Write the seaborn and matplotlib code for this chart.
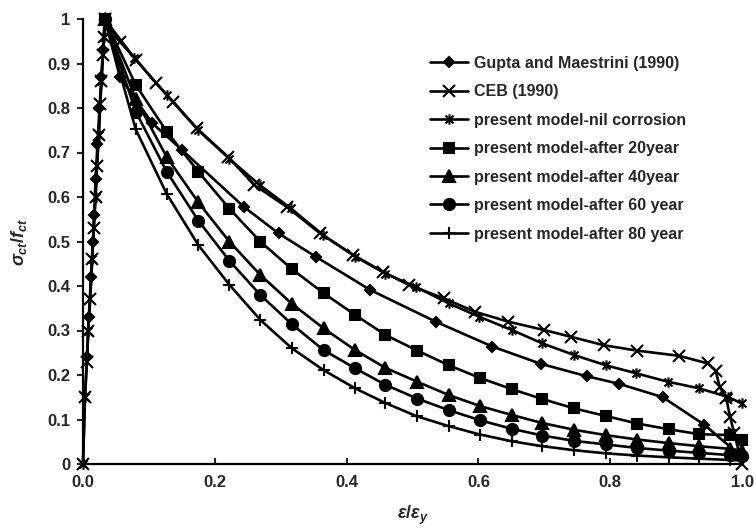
import matplotlib
matplotlib.use("Agg")
import matplotlib.pyplot as plt
from matplotlib.path import Path
import seaborn as sns

# values (x = eps/eps_y, y = sigma_ct/f_ct)
ceb_x = [0.0, 0.003, 0.006, 0.008, 0.011, 0.014, 0.016, 0.019, 0.021, 0.024, 0.026, 0.028, 0.030, 0.032, 0.033,
         0.056, 0.081, 0.111, 0.137, 0.173, 0.22, 0.26, 0.31, 0.36, 0.41, 0.455, 0.495, 0.548, 0.595,
         0.645, 0.70, 0.74, 0.79, 0.84, 0.905, 0.948, 0.96, 0.966, 0.976, 0.982, 0.988, 1.0]
ceb_y = [0.0, 0.15, 0.23, 0.30, 0.37, 0.46, 0.53, 0.60, 0.67, 0.74, 0.81, 0.86, 0.92, 0.96, 1.0,
         0.949, 0.908, 0.856, 0.814, 0.754, 0.69, 0.627, 0.577, 0.518, 0.47, 0.432, 0.402, 0.372, 0.342,
         0.32, 0.301, 0.286, 0.267, 0.255, 0.243, 0.226, 0.21, 0.174, 0.148, 0.106, 0.07, 0.0]

gupta_x = [0.006, 0.009, 0.012, 0.015, 0.017, 0.019, 0.022, 0.025, 0.028, 0.030, 0.033,
           0.056, 0.105, 0.15, 0.244, 0.297, 0.353, 0.436, 0.535, 0.621, 0.695, 0.765, 0.814, 0.88, 0.943, 1.0]
gupta_y = [0.24, 0.33, 0.42, 0.50, 0.56, 0.64, 0.72, 0.80, 0.87, 0.93, 1.0,
           0.87, 0.766, 0.706, 0.578, 0.518, 0.466, 0.391, 0.32, 0.264, 0.225, 0.197, 0.18, 0.15, 0.088, 0.016]

nil_x = [0.0, 0.003, 0.008, 0.014, 0.019, 0.024, 0.028, 0.032, 0.033,
         0.078, 0.127, 0.175, 0.222, 0.268, 0.315, 0.364, 0.413, 0.459, 0.505, 0.555, 0.601,
         0.651, 0.697, 0.745, 0.793, 0.839, 0.887, 0.935, 0.978, 1.0]
nil_y = [0.0, 0.15, 0.30, 0.46, 0.60, 0.74, 0.86, 0.96, 1.0,
         0.912, 0.829, 0.75, 0.686, 0.627, 0.575, 0.515, 0.466, 0.428, 0.398, 0.361, 0.331,
         0.301, 0.271, 0.245, 0.222, 0.204, 0.185, 0.17, 0.151, 0.136]

# the corroded cases share one strain grid
model_x = [0.033, 0.08, 0.127, 0.175, 0.222, 0.269, 0.317, 0.365, 0.413, 0.459, 0.507,
           0.555, 0.603, 0.651, 0.697, 0.745, 0.793, 0.841, 0.889, 0.935, 0.982, 1.0]
y20 = [1.0, 0.852, 0.747, 0.657, 0.574, 0.50, 0.438, 0.384, 0.335, 0.29, 0.255,
       0.222, 0.193, 0.168, 0.146, 0.125, 0.108, 0.091, 0.078, 0.067, 0.065, 0.055]
y40 = [1.0, 0.82, 0.69, 0.588, 0.50, 0.425, 0.36, 0.305, 0.256, 0.216, 0.185,
       0.155, 0.13, 0.11, 0.092, 0.077, 0.065, 0.055, 0.047, 0.04, 0.034, 0.03]
y60 = [1.0, 0.792, 0.657, 0.547, 0.457, 0.38, 0.314, 0.256, 0.215, 0.178, 0.147,
       0.121, 0.098, 0.079, 0.064, 0.052, 0.044, 0.036, 0.03, 0.025, 0.02, 0.017]
y80 = [1.0, 0.752, 0.607, 0.492, 0.403, 0.324, 0.26, 0.211, 0.17, 0.137, 0.107,
       0.085, 0.066, 0.051, 0.04, 0.031, 0.024, 0.019, 0.015, 0.012, 0.009, 0.008]

labels = ["Gupta and Maestrini (1990)", "CEB (1990)", "present model-nil corrosion",
          "present model-after 20year", "present model-after 40year",
          "present model-after 60 year", "present model-after 80 year"]

y_ticks = [0, 0.1, 0.2, 0.3, 0.4, 0.5, 0.6, 0.7, 0.8, 0.9, 1]
y_ticklabels = ["0", "0.1", "0.2", "0.3", "0.4", "0.5", "0.6", "0.7", "0.8", "0.9", "1"]
x_ticks = [0.0, 0.2, 0.4, 0.6, 0.8, 1.0]
x_ticklabels = ["0.0", "0.2", "0.4", "0.6", "0.8", "1.0"]

sns.set_style("ticks")
plt.rcParams["font.family"] = ["Liberation Sans", "DejaVu Sans"]
plt.rcParams["font.weight"] = "bold"
plt.rcParams["mathtext.fontset"] = "custom"
plt.rcParams["mathtext.it"] = "Liberation Sans:italic:bold"
plt.rcParams["mathtext.rm"] = "Liberation Sans:bold"

fig = plt.figure(figsize=(7.56, 5.30), dpi=100)
ax = fig.add_axes([83 / 756, 66 / 530, 659 / 756, 445 / 530])

# excel style star: an x with a vertical bar through it
star = Path([(-1, -1), (1, 1), (-1, 1), (1, -1), (0, -1.3), (0, 1.3)],
            [Path.MOVETO, Path.LINETO, Path.MOVETO, Path.LINETO, Path.MOVETO, Path.LINETO])

series = [
    (gupta_x, gupta_y, "D", 5.5),
    (ceb_x, ceb_y, "x", 9),
    (nil_x, nil_y, star, 7.5),
    (model_x, y20, "s", 7.5),
    (model_x, y40, "^", 8),
    (model_x, y60, "o", 8),
    (model_x, y80, "+", 9),
]

for (xs, ys, mk, ms), name in zip(series, labels):
    sns.lineplot(x=xs, y=ys, ax=ax, sort=False, estimator=None, color="black",
                 linewidth=1.9, marker=mk, markersize=ms, markerfacecolor="black",
                 markeredgecolor="black", markeredgewidth=1.5, label=name, clip_on=False)

ax.set_xlim(0, 1.0)
ax.set_ylim(0, 1.0)
ax.set_xticks(x_ticks)
ax.set_xticklabels(x_ticklabels)
ax.set_yticks(y_ticks)
ax.set_yticklabels(y_ticklabels)
ax.tick_params(axis="y", direction="out", length=4, width=1.5, pad=5, labelsize=12)
ax.tick_params(axis="x", direction="in", length=4, width=1.5, pad=8, labelsize=12)
for lab in ax.get_xticklabels() + ax.get_yticklabels():
    lab.set_fontweight("bold")

sns.despine(ax=ax)
for side in ["left", "bottom"]:
    ax.spines[side].set_linewidth(1.6)
    ax.spines[side].set_color("black")

ax.set_xlabel(r"$\varepsilon/\varepsilon_y$", fontsize=13, labelpad=10)
ax.set_ylabel(r"$\sigma_{ct}/f_{ct}$", fontsize=13, labelpad=13)

ax.legend(loc="upper left", bbox_to_anchor=(430 / 756, 1 - 56 / 530), bbox_transform=fig.transFigure,
          frameon=False, fontsize=11.5, handlelength=2.4, handletextpad=0.35,
          labelspacing=0.84, borderpad=0, borderaxespad=0, numpoints=1)

fig.savefig("out.png", dpi=100)
